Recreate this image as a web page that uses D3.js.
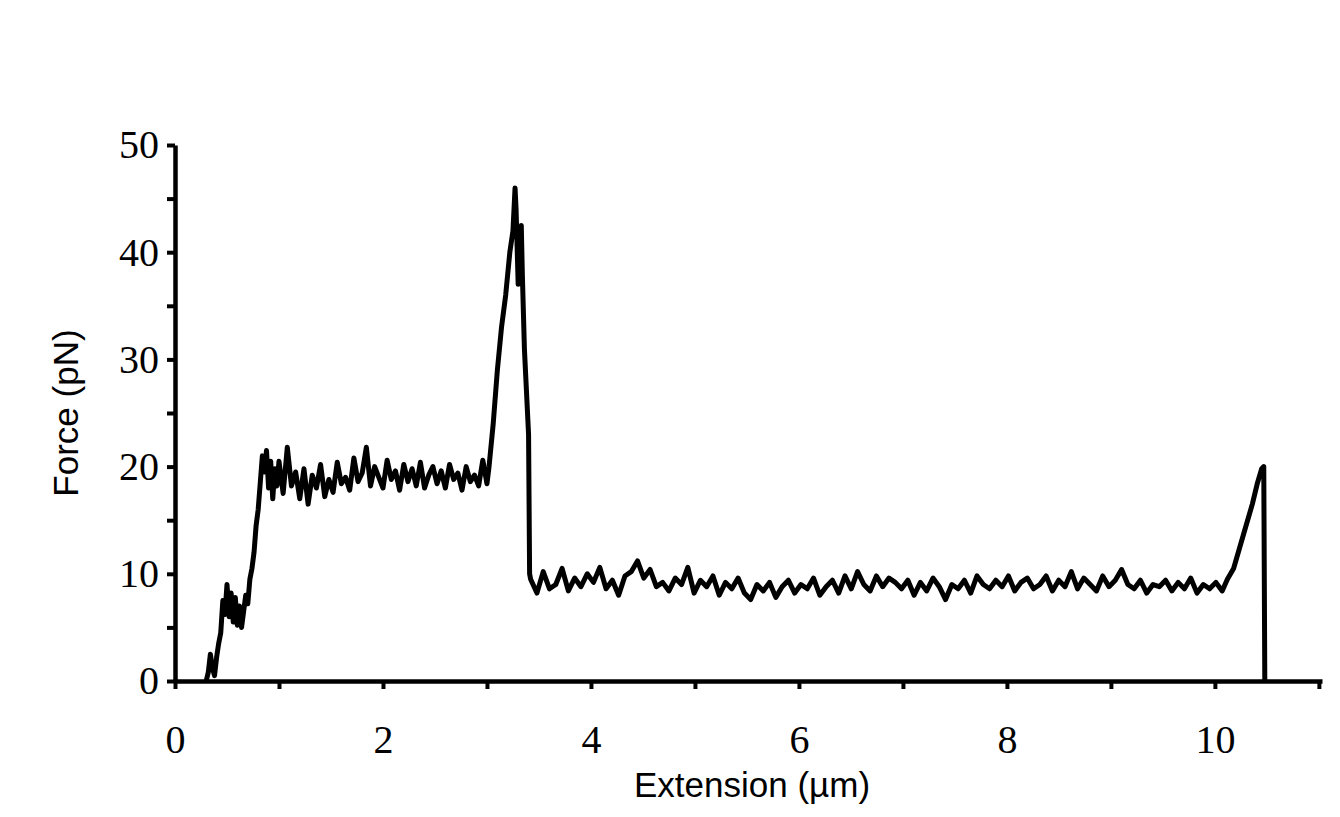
<!DOCTYPE html>
<html><head><meta charset="utf-8">
<script src="https://d3js.org/d3.v7.min.js"></script>
<style>body{margin:0;background:#fff}</style></head>
<body><svg id="c" width="1340" height="817"></svg>
<script>
const xTicks=[0,2,4,6,8,10];
const yTicks=[0,10,20,30,40,50];
const riseX=[0.30,0.32,0.34,0.36,0.38,0.40,0.42,0.44,0.46,0.48,0.50,0.52,0.54,0.56,0.58,0.60,0.62,0.64,0.66,0.68,0.70,0.72,0.74,0.76,0.78,0.80,0.82,0.84,0.86,0.88,0.90,0.92,0.94,0.96,0.98];
const riseY=[0,0.8,2.5,1.2,0.5,2.2,3.5,4.5,7.5,6.2,9.0,6.0,8.2,5.5,7.8,5.2,7.0,5.0,6.5,8.0,7.2,9.5,10.5,12.0,14.5,16.0,18.5,21.0,19.5,21.5,18.0,20.5,17.0,19.8,18.2];
const plateauY=[20.5,17.5,21.8,18.2,19.5,17.0,19.8,16.5,19.2,18.0,20.2,17.2,18.8,17.6,20.4,18.4,19.0,17.8,20.8,18.6,19.4,21.8,18.2,20.0,19.0,18.0,20.6,18.8,19.6,17.8,20.2,18.6,19.8,18.2,20.4,18.0,19.2,20.0,18.4,19.6,18.0,20.2,18.8,19.4,17.8,20.0,18.6,19.2,18.2,20.6,18.4];
const peakX=[3.02,3.06,3.10,3.14,3.18,3.22,3.25,3.27,3.28,3.30,3.31,3.33,3.34,3.36,3.38,3.40,3.41];
const peakY=[20,24,29,33,36,40,42,46,44,37,40,42.5,38,31,27,23,10];
const lowY=[9.5,8.2,10.2,8.6,9.0,10.5,8.4,9.6,8.8,10.0,9.2,10.6,8.6,9.4,8.0,9.8,10.2,11.2,9.6,10.4,8.8,9.2,8.4,9.6,9.0,10.6,8.2,9.4,8.8,9.8,8.0,9.2,8.6,9.6,8.2,7.6,9.0,8.4,9.2,7.8,8.8,9.4,8.2,9.0,8.6,9.6,8.0,8.8,9.4,8.2,9.8,8.6,10.2,9.0,8.4,9.8,8.8,9.6,9.2,8.6,9.4,8.0,9.2,8.4,9.6,8.8,7.6,9.0,8.6,9.4,8.2,9.8,9.0,8.6,9.4,8.8,9.8,8.4,9.2,9.6,8.6,9.0,9.8,8.4,9.4,8.8,10.2,8.6,9.6,9.0,8.4,9.8,8.8,9.4,10.4,9.0,8.6,9.4,8.2,9.0,8.8,9.4,8.4,9.2,8.6,9.6,8.2,9.0,8.6,9.2,8.4];
const endX=[10.12,10.18,10.24,10.30,10.36,10.41,10.45,10.47,10.48];
const endY=[9.5,10.5,12.5,14.5,16.5,18.5,19.8,20,0];

const data=[];
riseX.forEach((x,i)=>data.push([x,riseY[i]]));
plateauY.forEach((y,i)=>data.push([1.0+i*0.04,y]));
peakX.forEach((x,i)=>data.push([x,peakY[i]]));
lowY.forEach((y,i)=>data.push([3.42+i*(6.65/(lowY.length-1)),y]));
endX.forEach((x,i)=>data.push([x,endY[i]]));

const svg=d3.select("#c");
const x=d3.scaleLinear().domain([0,11.03]).range([175,1322]);
const y=d3.scaleLinear().domain([0,50]).range([681,145]);
const serif="'Liberation Serif','DejaVu Serif',serif";
const sans="'Liberation Sans',Arial,sans-serif";

const xa=svg.append("g").attr("transform","translate(0,681)")
 .call(d3.axisBottom(x).tickValues(d3.range(0,12,1)).tickSize(8).tickSizeOuter(0).tickFormat(d=>xTicks.includes(d)?d:""));
const ya=svg.append("g").attr("transform","translate(175,0)")
 .call(d3.axisLeft(y).tickValues(d3.range(0,55,5)).tickSize(8).tickSizeOuter(0).tickFormat(d=>yTicks.includes(d)?d:""));
[xa,ya].forEach(a=>{a.select(".domain").attr("stroke","#000").style("stroke-width","4.5px");
 a.selectAll(".tick line").attr("stroke","#000").style("stroke-width","4px");
 a.selectAll("text").attr("font-family",serif).attr("font-size",40).attr("fill","#000");});
xa.selectAll("text").attr("y",44).attr("dy","0.71em");
ya.selectAll("text").attr("x",-16);

svg.append("path").datum(data).attr("fill","none").attr("stroke","#000").style("stroke-width","5px")
 .attr("stroke-linejoin","round").attr("d",d3.line().x(d=>x(d[0])).y(d=>y(d[1])));

svg.append("text").attr("x",752).attr("y",797).attr("text-anchor","middle")
 .attr("font-family",sans).attr("font-size",35).text("Extension (µm)");
svg.append("text").attr("transform","translate(78,413) rotate(-90)").attr("text-anchor","middle")
 .attr("font-family",sans).attr("font-size",35).text("Force (pN)");
</script></body></html>
